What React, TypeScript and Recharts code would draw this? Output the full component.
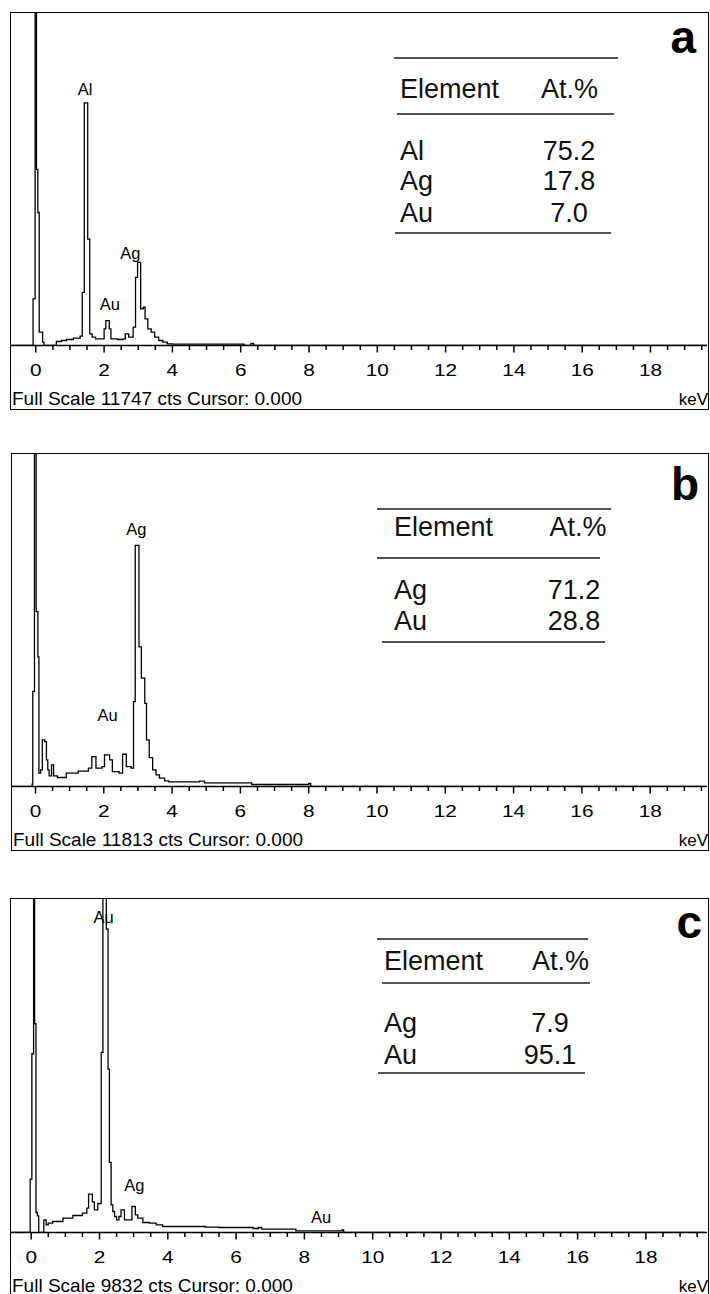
import { LineChart, Line, XAxis, YAxis, ReferenceDot } from 'recharts'

// spectra: energy (keV) and counts as % of full scale (step histogram)
const kevA = [-0.7, -0.12, -0.08, -0.02, 0.02, 0.06, 0.1, 0.16, 0.2, 0.24, 0.6, 0.75, 0.9, 1.1, 1.3, 1.36, 1.42, 1.52, 1.58, 1.65, 1.75, 1.95, 2.0, 2.05, 2.15, 2.2, 2.4, 2.55, 2.62, 2.72, 2.85, 2.92, 2.98, 3.07, 3.15, 3.2, 3.28, 3.38, 3.48, 3.6, 3.72, 3.85, 4.0, 6.1, 6.3, 6.38, 19.7]
const ctsA = [0, 0, 14, 130, 53, 40, 4, 4, 1, 0, 1.2, 1.5, 1.8, 2.2, 2.8, 16, 73, 32, 3.5, 2.5, 2, 2, 5, 7.5, 5, 2, 1.8, 2, 3.5, 2.5, 5.5, 20.5, 25, 11, 11.5, 8, 5, 4, 2.5, 1.5, 1, 0.5, 0.4, 0, 0.6, 0, 0]

const kevB = [-0.7, -0.1, -0.08, -0.03, 0.02, 0.07, 0.1, 0.15, 0.2, 0.27, 0.32, 0.36, 0.4, 0.47, 0.53, 0.64, 0.9, 1.25, 1.55, 1.65, 1.77, 1.95, 2.02, 2.17, 2.25, 2.45, 2.55, 2.66, 2.8, 2.87, 2.92, 3.03, 3.1, 3.2, 3.25, 3.33, 3.43, 3.53, 3.63, 3.78, 3.9, 4.8, 4.95, 6.33, 8.0, 8.06, 19.7]
const ctsB = [0, 0.7, 28.6, 130, 52.6, 39, 4, 5, 14, 13.5, 8, 5, 3.2, 6.5, 3.2, 2.7, 4, 4.6, 5.5, 9, 5.5, 6, 9.5, 8, 4.5, 4, 9.7, 6, 5.5, 25.5, 72.5, 42, 32.6, 25, 14, 8.7, 5, 3.5, 2.5, 1.7, 1.4, 1.6, 1.1, 0.6, 0.9, 0, 0]

const kevC = [-0.6, -0.03, 0.02, 0.07, 0.1, 0.14, 0.18, 0.22, 0.37, 0.44, 0.5, 0.63, 0.93, 1.22, 1.5, 1.63, 1.68, 1.79, 1.85, 1.95, 2.05, 2.1, 2.2, 2.25, 2.29, 2.34, 2.39, 2.44, 2.5, 2.57, 2.63, 2.73, 2.85, 2.95, 3.05, 3.12, 3.27, 3.46, 3.66, 3.85, 5.1, 5.5, 6.5, 6.65, 6.75, 7.75, 9.1, 9.15, 19.7]
const ctsC = [0, 16, 53.6, 130, 62.6, 6, 5, 0, 3.8, 2.3, 2.8, 3.3, 4.3, 5.1, 5.8, 7.3, 11.5, 9.2, 6.8, 8.7, 54, 130, 91, 49, 21, 8.3, 6.3, 4.8, 3.8, 4.8, 6.8, 3.8, 3.8, 7.8, 5.3, 4.3, 3, 2.8, 2.3, 1.8, 1.6, 1.5, 1.2, 1.5, 1.0, 0.5, 0.8, 0, 0]

// peak labels: element, keV, % of full scale (text baseline)
const peaksA = [
  { el: 'Al', kev: 1.44, pct: 75.4 },
  { el: 'Au', kev: 2.17, pct: 10.8 },
  { el: 'Ag', kev: 2.77, pct: 26.1 },
]
const peaksB = [
  { el: 'Ag', kev: 2.95, pct: 75.7 },
  { el: 'Au', kev: 2.11, pct: 19.6 },
]
const peaksC = [
  { el: 'Au', kev: 2.12, pct: 92.8 },
  { el: 'Ag', kev: 3.02, pct: 12.4 },
  { el: 'Au', kev: 8.49, pct: 2.9 },
]

// composition tables
const tableA = [['Al', '75.2'], ['Ag', '17.8'], ['Au', '7.0']]
const tableB = [['Ag', '71.2'], ['Au', '28.8']]
const tableC = [['Ag', '7.9'], ['Au', '95.1']]

const fullScale = [11747, 11813, 9832]
const letters = ['a', 'b', 'c']
const kevTicks = Array.from({ length: 40 }, (_, i) => i * 0.5)

const FONT = '"Liberation Sans", Arial, sans-serif'
const B = 1.5 // border width
const S = 34.15 // px per keV

const toData = (kev: number[], cts: number[]) => kev.map((k, i) => ({ kev: k, cts: cts[i] }))

const panels = [
  {
    left: 10, top: 12, width: 699, height: 398, axisY: 346, x0: 36.3,
    data: toData(kevA, ctsA), peaks: peaksA, table: tableA,
    rules: [[58, 394, 618], [114, 397, 614], [233, 395, 611]],
    headY: 98, elX: 400, atX: 569.5, valX: 569, rowY: [160, 190, 222],
    letterX: 696, letterY: 53, footY: 405,
  },
  {
    left: 11, top: 453, width: 698, height: 398, axisY: 787, x0: 36,
    data: toData(kevB, ctsB), peaks: peaksB, table: tableB,
    rules: [[509, 377, 611], [558, 377, 600], [642, 382, 605]],
    headY: 536, elX: 394, atX: 578, valX: 574, rowY: [599, 630],
    letterX: 699, letterY: 500, footY: 846,
  },
  {
    left: 10, top: 898, width: 699, height: 400, axisY: 1233, x0: 31.7,
    data: toData(kevC, ctsC), peaks: peaksC, table: tableC,
    rules: [[939, 377, 588], [983, 382, 590], [1073, 378, 585]],
    headY: 970, elX: 384, atX: 560.5, valX: 550, rowY: [1032, 1064],
    letterX: 702, letterY: 938, footY: 1291.5,
  },
]

function KevTick({ x, y, payload }: any) {
  const v = payload.value
  const major = Math.abs(v % 2) < 1e-6
  return (
    <g>
      <line x1={x} x2={x} y1={y} y2={y + (major ? 7 : 4.5)} stroke="#000" strokeWidth={1.5} />
      {major && (
        <text
          transform={`translate(${x},${y + 30.5}) scale(1.3,1)`}
          textAnchor="middle"
          fontSize={16}
          fontFamily={FONT}
          fill="#000"
        >
          {v}
        </text>
      )}
    </g>
  )
}

function Panel({ p }: { p: (typeof panels)[number] }) {
  const chartW = p.width - 2 * B
  const chartH = p.height - 2 * B
  const plotH = p.axisY - (p.top + B)
  const innerLeft = p.left + B
  const d0 = (innerLeft - p.x0) / S
  const d1 = (innerLeft + chartW - p.x0) / S
  return (
    <div
      style={{
        position: 'absolute',
        left: p.left,
        top: p.top,
        width: p.width,
        height: p.height,
        border: `${B}px solid #000`,
        boxSizing: 'border-box',
      }}
    >
      <LineChart width={chartW} height={chartH} data={p.data} margin={{ top: 0, right: 0, bottom: 0, left: 0 }}>
        <XAxis
          type="number"
          dataKey="kev"
          domain={[d0, d1]}
          allowDataOverflow
          ticks={kevTicks}
          interval={0}
          tickLine={false}
          tickSize={0}
          tickMargin={0}
          axisLine={{ stroke: '#000', strokeWidth: 1.5 }}
          height={chartH - plotH}
          tick={<KevTick />}
        />
        <YAxis hide domain={[0, 100]} allowDataOverflow />
        <Line
          type="stepAfter"
          dataKey="cts"
          stroke="#000"
          strokeWidth={1.3}
          dot={false}
          isAnimationActive={false}
        />
        {p.peaks.map((pk, i) => (
          <ReferenceDot
            key={i}
            x={pk.kev}
            y={pk.pct}
            r={0}
            shape={(s: any) => (
              <text x={s.cx} y={s.cy} textAnchor="middle" fontSize={16.5} fontFamily={FONT} fill="#000">
                {pk.el}
              </text>
            )}
          />
        ))}
      </LineChart>
    </div>
  )
}

export default function App() {
  return (
    <div
      style={{
        position: 'absolute',
        left: 0,
        top: 0,
        width: 710,
        height: 1294,
        overflow: 'hidden',
        background: '#fff',
      }}
    >
      {panels.map((p, i) => (
        <Panel key={i} p={p} />
      ))}
      <svg
        width={710}
        height={1294}
        style={{ position: 'absolute', left: 0, top: 0, pointerEvents: 'none' }}
        fontFamily={FONT}
      >
        {panels.map((p, i) => (
          <g key={i}>
            {p.rules.map(([y, x1, x2], j) => (
              <line key={j} x1={x1} x2={x2} y1={y} y2={y} stroke="#1a1a1a" strokeWidth={1.6} />
            ))}
            <text x={p.elX} y={p.headY} fontSize={27} fill="#111">Element</text>
            <text x={p.atX} y={p.headY} fontSize={27} fill="#111" textAnchor="middle">At.%</text>
            {p.table.map(([el, v], j) => (
              <g key={j}>
                <text x={p.elX} y={p.rowY[j]} fontSize={27} fill="#111">{el}</text>
                <text x={p.valX} y={p.rowY[j]} fontSize={27} fill="#111" textAnchor="middle">{v}</text>
              </g>
            ))}
            <text x={p.letterX} y={p.letterY} fontSize={46} fontWeight="bold" textAnchor="end" fill="#000">
              {letters[i]}
            </text>
            <text x={p.left + B + 0.5} y={p.footY} fontSize={19} fill="#000">
              {`Full Scale ${fullScale[i]} cts Cursor: 0.000`}
            </text>
            <text x={708} y={p.footY} fontSize={17} fill="#000" textAnchor="end">keV</text>
          </g>
        ))}
      </svg>
    </div>
  )
}
